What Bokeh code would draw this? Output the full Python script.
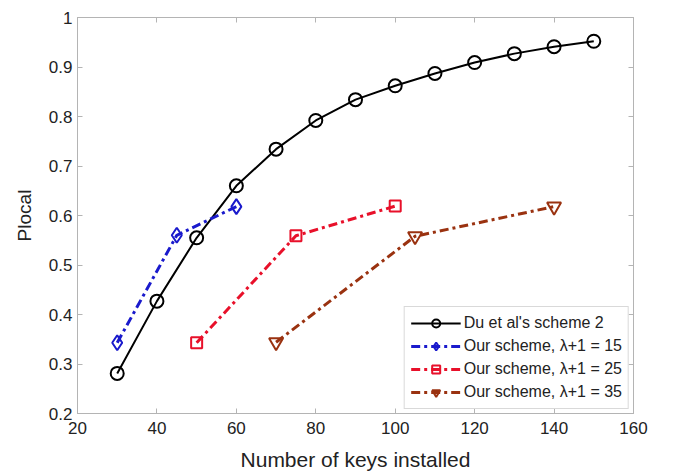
from bokeh.plotting import figure
from bokeh.models import (LinearAxis, FixedTicker, CustomJSTickFormatter, Range1d,
                          Legend, LegendItem)
from bokeh.embed import file_html
from bokeh.resources import INLINE

# ---- data ----
keys_du = [30, 40, 50, 60, 70, 80, 90, 100, 110, 120, 130, 140, 150]
plocal_du = [0.281, 0.427, 0.555, 0.660, 0.734, 0.792, 0.834, 0.862, 0.887,
             0.909, 0.927, 0.941, 0.952]

keys_15 = [30, 45, 60]
plocal_15 = [0.343, 0.560, 0.618]

keys_25 = [50, 75, 100]
plocal_25 = [0.343, 0.559, 0.619]

keys_35 = [70, 105, 140]
plocal_35 = [0.344, 0.558, 0.618]

x_ticks = [20, 40, 60, 80, 100, 120, 140, 160]
y_ticks = [0.2, 0.3, 0.4, 0.5, 0.6, 0.7, 0.8, 0.9, 1.0]

FONT = "Liberation Sans"
AX_GRAY = "#b4b4b4"

p = figure(width=675, height=473, output_backend="svg", toolbar_location=None,
           x_range=Range1d(20, 160), y_range=Range1d(0.2, 1.0),
           min_border_left=77, min_border_right=42, min_border_top=17,
           min_border_bottom=60, x_axis_label="Number of keys installed",
           y_axis_label="Plocal")
p.xgrid.visible = False
p.ygrid.visible = False
p.outline_line_color = AX_GRAY
p.background_fill_color = "white"
p.border_fill_color = "white"

fmt = CustomJSTickFormatter(code="return String(Number(tick.toFixed(1)));")

for ax in p.xaxis:
    ax.ticker = FixedTicker(ticks=x_ticks)
for ax in p.yaxis:
    ax.ticker = FixedTicker(ticks=y_ticks)
    ax.formatter = fmt

for ax in list(p.xaxis) + list(p.yaxis):
    ax.axis_line_color = AX_GRAY
    ax.major_tick_line_color = AX_GRAY
    ax.major_tick_in = 5
    ax.major_tick_out = 0
    ax.minor_tick_line_color = None
    ax.major_label_text_font = FONT
    ax.major_label_text_font_size = "17px"
    ax.major_label_text_color = "#222222"
    ax.axis_label_text_font = FONT
    ax.axis_label_text_font_style = "normal"
    ax.axis_label_text_color = "#222222"
    ax.axis_label_standoff = 11
p.xaxis.axis_label_text_font_size = "21px"
p.yaxis.axis_label_text_font_size = "19px"
p.xaxis.major_label_standoff = 8
p.yaxis.major_label_standoff = 5

# box ticks on top and right
top = LinearAxis(ticker=FixedTicker(ticks=x_ticks), major_label_text_color=None,
                 axis_line_color=AX_GRAY, major_tick_line_color=AX_GRAY,
                 major_tick_in=5, major_tick_out=0, minor_tick_line_color=None,
                 major_label_text_font_size="1px")
right = LinearAxis(ticker=FixedTicker(ticks=y_ticks), major_label_text_color=None,
                   axis_line_color=AX_GRAY, major_tick_line_color=AX_GRAY,
                   major_tick_in=5, major_tick_out=0, minor_tick_line_color=None,
                   major_label_text_font_size="1px")
p.add_layout(top, "above")
p.add_layout(right, "right")

DASHDOT = "9 4 3 4"
BLUE = "#1a1acc"
RED = "#e8102a"
BROWN = "#9a3210"

l0 = p.line(keys_du, plocal_du, line_color="black", line_width=2)
m0 = p.scatter(keys_du, plocal_du, marker="circle", size=13, fill_color=None,
               line_color="black", line_width=2)

l1 = p.line(keys_15, plocal_15, line_color=BLUE, line_width=3, line_dash=DASHDOT)
m1 = p.scatter(keys_15, plocal_15, marker="diamond", size=15, fill_color=None,
               line_color=BLUE, line_width=2)

l2 = p.line(keys_25, plocal_25, line_color=RED, line_width=3, line_dash=DASHDOT)
m2 = p.scatter(keys_25, plocal_25, marker="square", size=11, fill_color=None,
               line_color=RED, line_width=2)

l3 = p.line(keys_35, plocal_35, line_color=BROWN, line_width=3, line_dash=DASHDOT)
m3 = p.scatter(keys_35, plocal_35, marker="inverted_triangle", size=14,
               fill_color=None, line_color=BROWN, line_width=2)

legend = Legend(items=[
    LegendItem(label="Du et al's scheme 2", renderers=[l0, m0]),
    LegendItem(label="Our scheme, \u03bb+1 = 15", renderers=[l1, m1]),
    LegendItem(label="Our scheme, \u03bb+1 = 25", renderers=[l2, m2]),
    LegendItem(label="Our scheme, \u03bb+1 = 35", renderers=[l3, m3]),
], location="bottom_right")
legend.label_text_font = FONT
legend.label_text_font_size = "16px"
legend.label_text_color = "#222222"
legend.glyph_width = 50
legend.glyph_height = 20
legend.label_height = 20
legend.spacing = 3
legend.padding = 6
legend.margin = 4
legend.label_standoff = 3
legend.border_line_color = AX_GRAY
legend.background_fill_alpha = 1.0
p.add_layout(legend, "center")

open("out.html", "w").write(file_html(p, INLINE))
